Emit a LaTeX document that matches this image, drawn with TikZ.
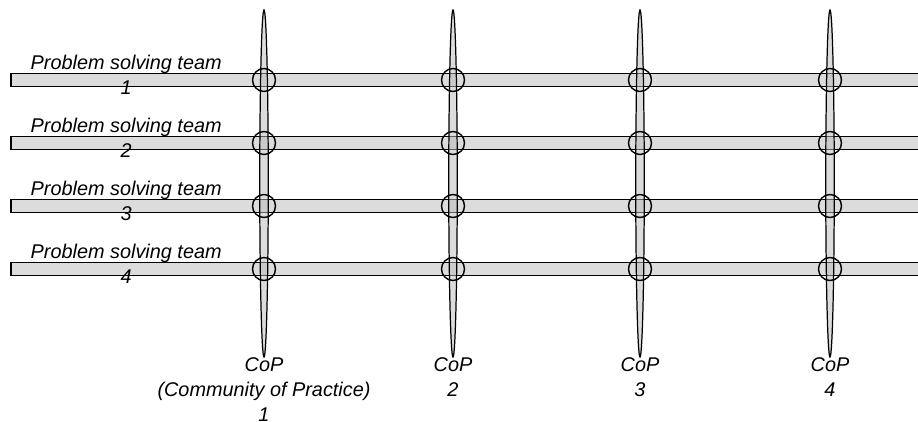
\documentclass[tikz,border=0pt]{standalone}
\usepackage{fontspec}
\setmainfont{Liberation Sans}
\usetikzlibrary{positioning,calc,shapes.geometric}

\begin{document}
\begin{tikzpicture}[
  font=\itshape\fontsize{11.3}{14.0}\selectfont,
  bar/.style={
    draw, line width=0.7pt, fill=gray!55, fill opacity=0.5,
    minimum width=18.38cm, minimum height=0.25cm, inner sep=0pt
  },
  spindle/.style={
    ellipse, draw, line width=0.7pt, fill=gray!55, fill opacity=0.5,
    minimum width=0.17cm, minimum height=6.94cm, inner sep=0pt
  },
  hub/.style={circle, draw, line width=0.8pt, minimum size=0.46cm, inner sep=0pt},
  team/.style={align=center, inner sep=0pt, anchor=north west},
  cop/.style={align=center, inner sep=0pt}
]
\clip (0,0) rectangle (18.36,8.42);

% Problem solving teams (horizontal bars)
\node[bar] (t1) at (9.41,6.82) {};
\node[bar] (t2) at (9.41,5.56) {};
\node[bar] (t3) at (9.41,4.30) {};
\node[bar] (t4) at (9.41,3.04) {};

% Communities of practice (vertical spindles)
\node[spindle] (c1) at (5.28,4.75) {};
\node[spindle] (c2) at (9.06,4.75) {};
\node[spindle] (c3) at (12.80,4.75) {};
\node[spindle] (c4) at (16.60,4.75) {};

% Crossings, team 1
\node[hub] (x11) at (t1 -| c1) {};
\node[hub] (x12) at (t1 -| c2) {};
\node[hub] (x13) at (t1 -| c3) {};
\node[hub] (x14) at (t1 -| c4) {};
% Crossings, team 2
\node[hub] (x21) at (t2 -| c1) {};
\node[hub] (x22) at (t2 -| c2) {};
\node[hub] (x23) at (t2 -| c3) {};
\node[hub] (x24) at (t2 -| c4) {};
% Crossings, team 3
\node[hub] (x31) at (t3 -| c1) {};
\node[hub] (x32) at (t3 -| c2) {};
\node[hub] (x33) at (t3 -| c3) {};
\node[hub] (x34) at (t3 -| c4) {};
% Crossings, team 4
\node[hub] (x41) at (t4 -| c1) {};
\node[hub] (x42) at (t4 -| c2) {};
\node[hub] (x43) at (t4 -| c3) {};
\node[hub] (x44) at (t4 -| c4) {};

% Team labels
\node[team] (l1) at ($(t1.north west)+(0.4,0.36)$) {Problem solving team\\1};
\node[team] (l2) at ($(t2.north west)+(0.4,0.36)$) {Problem solving team\\2};
\node[team] (l3) at ($(t3.north west)+(0.4,0.36)$) {Problem solving team\\3};
\node[team] (l4) at ($(t4.north west)+(0.4,0.36)$) {Problem solving team\\4};

% CoP labels
\node[cop, below=0cm of c1] (p1) {CoP\\(Community of Practice)\\1};
\node[cop, below=0cm of c2] (p2) {CoP\\2};
\node[cop, below=0cm of c3] (p3) {CoP\\3};
\node[cop, below=0cm of c4] (p4) {CoP\\4};

\end{tikzpicture}
\end{document}
